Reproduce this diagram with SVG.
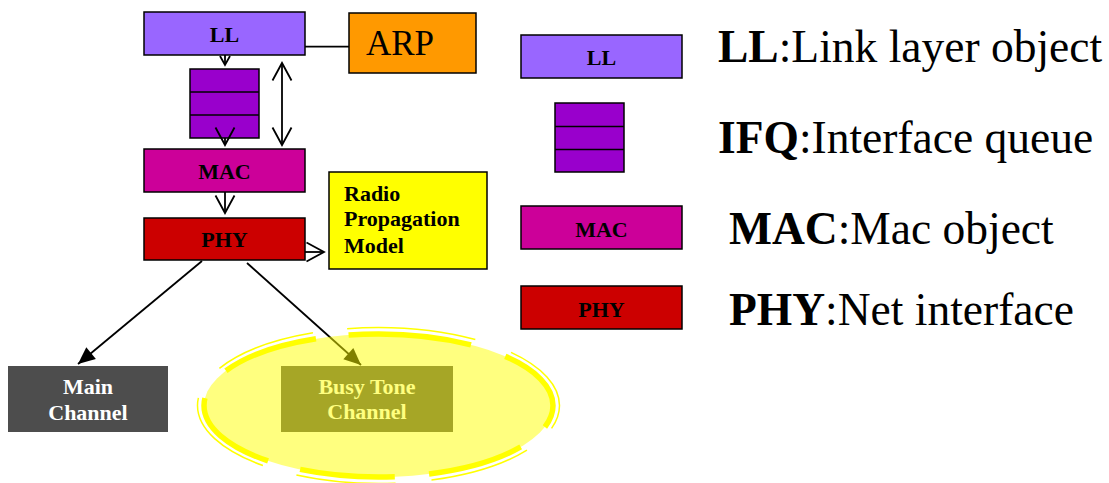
<svg xmlns="http://www.w3.org/2000/svg" width="1109" height="483" viewBox="0 0 1109 483">
  <style>
    .box { stroke: #000; stroke-width: 1.5; }
    .ll { fill: #9966ff; }
    .ifq { fill: #9900cc; }
    .mac { fill: #cc0099; }
    .phy { fill: #cc0000; }
    .arp { fill: #ff9900; }
    .radio { fill: #ffff00; }
    .chan { fill: #4d4d4d; }
    .serif { font-family: "Liberation Serif", "Times New Roman", serif; }
    .lbl { font-family: "Liberation Serif", "Times New Roman", serif; font-weight: bold; font-size: 22px; fill: #000; }
    .mid { text-anchor: middle; }
    .white { fill: #fff; }
    .big { font-family: "Liberation Serif", "Times New Roman", serif; font-size: 45.5px; fill: #000; }
    .big tspan.b { font-weight: bold; }
    .wire { stroke: #000; stroke-width: 1.8; fill: none; }
    .divider { stroke: #000; stroke-width: 1.5; }
  </style>
  <defs>
    <marker id="vhead" markerUnits="userSpaceOnUse" markerWidth="40" markerHeight="40" refX="0" refY="0" orient="auto-start-reverse" overflow="visible">
      <path d="M-17.5,-9.5 L0,0 L-17.5,9.5" fill="none" stroke="#000" stroke-width="1.8"/>
    </marker>
    <marker id="vsmall" markerUnits="userSpaceOnUse" markerWidth="20" markerHeight="20" refX="0" refY="0" orient="auto" overflow="visible">
      <path d="M-9,-5 L0,0 L-9,5" fill="none" stroke="#000" stroke-width="1.8"/>
    </marker>
    <marker id="solid" markerUnits="userSpaceOnUse" markerWidth="40" markerHeight="40" refX="0" refY="0" orient="auto" overflow="visible">
      <path d="M-17,-7.5 L0,0 L-17,7.5 z" fill="#000"/>
    </marker>
  </defs>

  <!-- protocol stack -->
  <g id="node-ll">
    <rect class="box ll" x="144" y="12" width="161" height="43"/>
    <text class="lbl mid" x="224.5" y="42">LL</text>
  </g>
  <g id="node-arp">
    <rect class="box arp" x="349" y="13" width="127" height="60"/>
    <text class="serif" x="366" y="55" font-size="35" fill="#000">ARP</text>
  </g>
  <g id="node-ifq">
    <rect class="box ifq" x="190" y="69" width="69" height="69"/>
    <line class="divider" x1="190" y1="92" x2="259" y2="92"/>
    <line class="divider" x1="190" y1="115" x2="259" y2="115"/>
  </g>
  <g id="node-mac">
    <rect class="box mac" x="144" y="149" width="161" height="43"/>
    <text class="lbl mid" x="224.5" y="179">MAC</text>
  </g>
  <g id="node-phy">
    <rect class="box phy" x="144" y="218" width="161" height="42"/>
    <text class="lbl mid" x="224.5" y="247">PHY</text>
  </g>
  <g id="node-radio">
    <rect class="box radio" x="329" y="172" width="158" height="97"/>
    <text class="lbl" x="344" y="201">Radio</text>
    <text class="lbl" x="344" y="226">Propagation</text>
    <text class="lbl" x="344" y="253">Model</text>
  </g>
  <g id="node-main-channel">
    <rect class="chan" x="8" y="366" width="160" height="66"/>
    <text class="lbl mid white" x="88" y="394">Main</text>
    <text class="lbl mid white" x="88" y="420">Channel</text>
  </g>
  <g id="node-busy-tone">
    <rect class="chan" x="281" y="366" width="172" height="66"/>
    <text class="lbl mid white" x="367" y="393.5">Busy Tone</text>
    <text class="lbl mid white" x="367" y="419">Channel</text>
  </g>

  <!-- connectors -->
  <g id="connectors">
    <line class="wire" x1="305" y1="46.7" x2="349" y2="46.7"/>
    <line class="wire" x1="225" y1="55" x2="225" y2="65" marker-end="url(#vsmall)"/>
    <line class="wire" x1="225" y1="138" x2="225" y2="145" marker-end="url(#vhead)"/>
    <line class="wire" x1="282" y1="63" x2="282" y2="145" marker-start="url(#vhead)" marker-end="url(#vhead)"/>
    <line class="wire" x1="225" y1="192" x2="225" y2="213" marker-end="url(#vhead)"/>
    <line class="wire" x1="305" y1="252" x2="324" y2="252" marker-end="url(#vhead)"/>
    <line class="wire" x1="202" y1="261" x2="78" y2="364" marker-end="url(#solid)"/>
    <line class="wire" x1="247" y1="263" x2="361" y2="365" marker-end="url(#solid)"/>
  </g>

  <!-- translucent highlight round the busy tone channel -->
  <g id="busy-tone-highlight">
    <ellipse cx="378.5" cy="405.5" rx="174.5" ry="71.5" fill="#ffff00" fill-opacity="0.5"/>
    <ellipse cx="378.5" cy="405.5" rx="174.5" ry="71.5" fill="none" stroke="#ffff00" stroke-width="5.5" pathLength="807.2"
             stroke-dasharray="23.5 31.6 96 34.2 95.2 33.4 97.1 35.3 96.3 32.8 123.3 36.2 72.3"/>
    <ellipse cx="378.5" cy="405.5" rx="181" ry="78" fill="none" stroke="#ffff00" stroke-width="1.5" pathLength="807.2"
             stroke-dasharray="23.5 31.6 96 34.2 95.2 33.4 97.1 35.3 96.3 32.8 123.3 36.2 72.3"/>
  </g>

  <!-- legend -->
  <g id="legend-ll">
    <rect class="box ll" x="521" y="35" width="161" height="43"/>
    <text class="lbl mid" x="601.5" y="65">LL</text>
    <text class="big" x="718" y="61.5"><tspan class="b">LL</tspan>:Link layer object</text>
  </g>
  <g id="legend-ifq">
    <rect class="box ifq" x="555" y="103" width="69" height="69"/>
    <line class="divider" x1="555" y1="126.5" x2="624" y2="126.5"/>
    <line class="divider" x1="555" y1="149.5" x2="624" y2="149.5"/>
    <text class="big" x="718" y="152.5"><tspan class="b">IFQ</tspan>:Interface queue</text>
  </g>
  <g id="legend-mac">
    <rect class="box mac" x="521" y="206" width="161" height="43"/>
    <text class="lbl mid" x="601.5" y="236.5">MAC</text>
    <text class="big" x="729" y="244"><tspan class="b">MAC</tspan>:Mac object</text>
  </g>
  <g id="legend-phy">
    <rect class="box phy" x="521" y="286" width="161" height="43"/>
    <text class="lbl mid" x="601.5" y="316.5">PHY</text>
    <text class="big" x="729" y="325"><tspan class="b">PHY</tspan>:Net interface</text>
  </g>
</svg>
